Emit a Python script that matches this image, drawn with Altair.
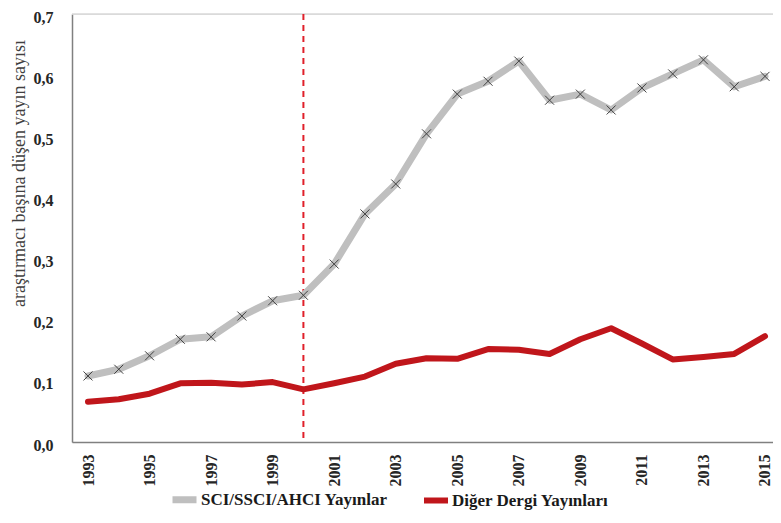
import altair as alt
import pandas as pd

years = list(range(1993, 2016))
sci_values = [0.108, 0.119, 0.141, 0.168, 0.172, 0.206, 0.231, 0.240, 0.291, 0.373,
              0.422, 0.504, 0.569, 0.590, 0.623, 0.559, 0.569, 0.543, 0.579, 0.602,
              0.625, 0.581, 0.598]
other_values = [0.066, 0.070, 0.079, 0.096, 0.097, 0.094, 0.098, 0.086, 0.096, 0.107,
                0.128, 0.137, 0.136, 0.152, 0.151, 0.144, 0.168, 0.186, 0.161, 0.135,
                0.139, 0.144, 0.173]
series_names = ["SCI/SSCI/AHCI Yayınlar", "Diğer Dergi Yayınları"]
series_colors = ["#BFBFBF", "#C0161B"]
x_tick_values = list(range(1993, 2016, 2))
y_tick_values = [0.0, 0.1, 0.2, 0.3, 0.4, 0.5, 0.6, 0.7]
y_title = "araştırmacı başına düşen yayın sayısı"
marker_year = 2000

df = pd.DataFrame({
    "year": years * 2,
    "value": sci_values + other_values,
    "series": [series_names[0]] * len(years) + [series_names[1]] * len(years),
})

FONT = "Liberation Serif"
W, H = 701, 428

x_enc = alt.X(
    "year:Q",
    scale=alt.Scale(domain=[1992.48, 2015.26], nice=False, zero=False),
    axis=alt.Axis(
        values=x_tick_values, format="d", labelAngle=-90, labelAlign="right",
        labelBaseline="middle", ticks=False, labelPadding=12, grid=False,
        domainColor="#808080", domainWidth=1.5, labelFont=FONT, labelFontSize=16,
        labelFontWeight="bold", labelColor="#262626", title=None,
    ),
)
y_enc = alt.Y(
    "value:Q",
    scale=alt.Scale(domain=[0, 0.7], nice=False),
    axis=alt.Axis(
        values=y_tick_values,
        labelExpr="replace(format(datum.value, '.1f'), '.', ',')",
        ticks=False, labelPadding=19, labelOffset=3, grid=False,
        domainColor="#808080", domainWidth=1.5, labelFont=FONT, labelFontSize=16,
        labelFontWeight="bold", labelColor="#262626",
        title=y_title, titleFont=FONT, titleFontSize=18, titleFontWeight="normal",
        titleColor="#404040", titleX=-53, titleY=159, titleAlign="center",
        titleBaseline="middle", titleAngle=-90,
    ),
)

base = alt.Chart(df)

top_border = alt.Chart(pd.DataFrame({"v": [0.7]})).mark_rule(
    color="#D9D9D9", strokeWidth=1.5
).encode(y=alt.Y("v:Q"), x=alt.value(0), x2=alt.value(709))

lines = base.mark_line(strokeCap="round", strokeJoin="round").encode(
    x=x_enc,
    y=y_enc,
    color=alt.Color(
        "series:N",
        scale=alt.Scale(domain=series_names, range=series_colors),
        legend=alt.Legend(
            title=None, orient="none", direction="horizontal",
            legendX=97, legendY=470, symbolType="stroke", symbolSize=576,
            symbolStrokeWidth=6, labelFont=FONT, labelFontSize=17,
            labelFontWeight="bold", labelColor="#1a1a1a", columnPadding=24,
            labelOffset=1, symbolOffset=0, labelLimit=400,
        ),
        sort=series_names,
    ),
    strokeWidth=alt.StrokeWidth(
        "series:N", scale=alt.Scale(domain=series_names, range=[7, 6]), legend=None
    ),
)

markers = base.transform_filter(
    alt.datum.series == series_names[0]
).mark_point(
    shape="M-1,-1L1,1M-1,1L1,-1", filled=False, color="#404040",
    strokeWidth=1, size=81, opacity=1,
).encode(x="year:Q", y="value:Q")

vline = alt.Chart(pd.DataFrame({"yr": [marker_year]})).mark_rule(
    color="#E0202A", strokeWidth=2, strokeDash=[6, 5]
).encode(x=alt.X("yr:Q"))

chart = alt.layer(top_border, vline, lines, markers).properties(
    width=W, height=H,
    autosize=alt.AutoSizeParams(type="none"),
    padding={"left": 64, "top": 6, "right": 0, "bottom": 70},
).configure_view(stroke=None).configure(background="white")

chart.save("out.html", embed_options={"renderer": "svg", "actions": False})
